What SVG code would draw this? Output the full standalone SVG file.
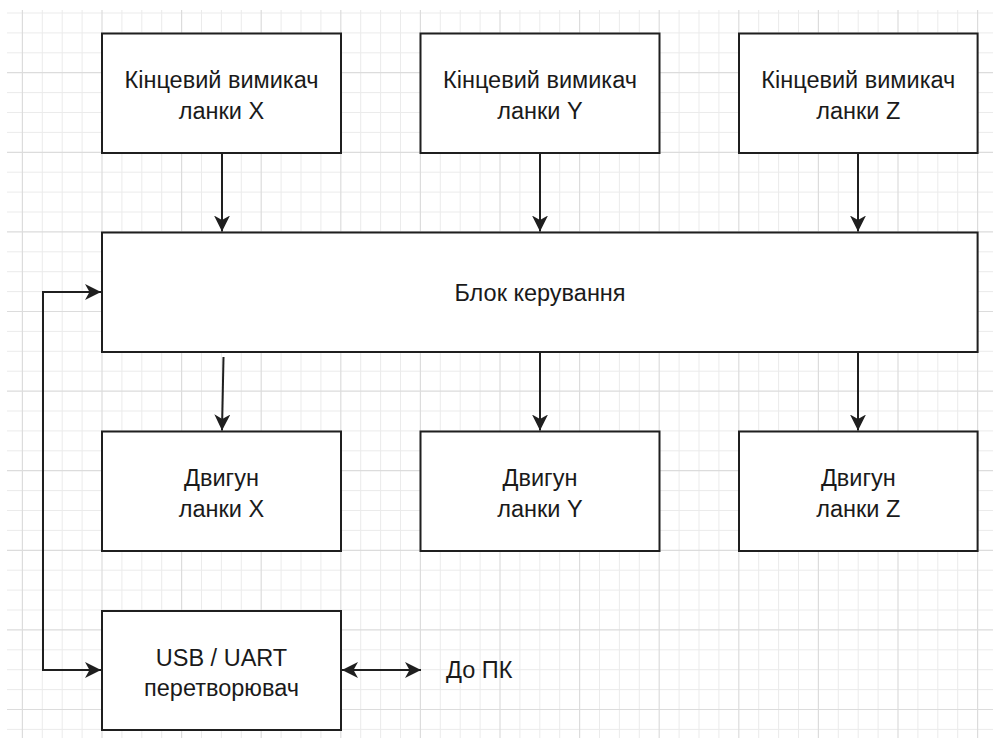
<svg xmlns="http://www.w3.org/2000/svg" width="993" height="738" viewBox="0 0 993 738">
  <defs>
    <style>
      .grid-minor { stroke: #ebebeb; stroke-width: 1; fill: none; }
      .grid-major { stroke: #dcdcdc; stroke-width: 1.2; fill: none; }
      .box { fill: #ffffff; stroke: #1f1f1f; stroke-width: 2; }
      .label { font-family: "Liberation Sans", Arial, Helvetica, sans-serif; font-size: 23.5px; fill: #1a1a1a; text-anchor: middle; }
      .edge { fill: none; stroke: #1f1f1f; stroke-width: 2; }
    </style>
    <marker id="arrow" viewBox="0 0 16 16" refX="16" refY="8" markerWidth="16" markerHeight="16" markerUnits="userSpaceOnUse" orient="auto-start-reverse">
      <path d="M0,0 L16,8 L0,16 L4.5,8 Z" fill="#1f1f1f"/>
    </marker>
  </defs>

  <rect x="0" y="0" width="993" height="738" fill="#ffffff"/>

  <!-- background grid: 19.9 px cells, heavier line every 4 cells -->
  <g id="grid">
    <path class="grid-minor" d="M42.3,10V738 M62.2,10V738 M82.1,10V738 M121.9,10V738 M141.8,10V738 M161.7,10V738 M201.5,10V738 M221.4,10V738 M241.3,10V738 M281.1,10V738 M301,10V738 M320.9,10V738 M360.7,10V738 M380.6,10V738 M400.5,10V738 M440.3,10V738 M460.2,10V738 M480.1,10V738 M519.9,10V738 M539.8,10V738 M559.7,10V738 M599.5,10V738 M619.4,10V738 M639.3,10V738 M679.1,10V738 M699,10V738 M718.9,10V738 M758.7,10V738 M778.6,10V738 M798.5,10V738 M838.3,10V738 M858.2,10V738 M878.1,10V738 M917.9,10V738 M937.8,10V738 M957.7,10V738
      M7,13H993 M7,32.9H993 M7,52.8H993 M7,92.6H993 M7,112.5H993 M7,132.4H993 M7,172.2H993 M7,192.1H993 M7,212H993 M7,251.8H993 M7,271.7H993 M7,291.6H993 M7,331.4H993 M7,351.3H993 M7,371.2H993 M7,411H993 M7,430.9H993 M7,450.8H993 M7,490.6H993 M7,510.5H993 M7,530.4H993 M7,570.2H993 M7,590.1H993 M7,610H993 M7,649.8H993 M7,669.7H993 M7,689.6H993 M7,729.4H993"/>
    <path class="grid-major" d="M22.4,10V738 M102,10V738 M181.6,10V738 M261.2,10V738 M340.8,10V738 M420.4,10V738 M500,10V738 M579.6,10V738 M659.2,10V738 M738.8,10V738 M818.4,10V738 M898,10V738 M977.6,10V738
      M7,72.7H993 M7,152.3H993 M7,231.9H993 M7,311.5H993 M7,391.1H993 M7,470.7H993 M7,550.3H993 M7,629.9H993 M7,709.5H993"/>
  </g>

  <!-- connectors -->
  <g id="connectors">
    <path class="edge" d="M222,153 V231.5" marker-end="url(#arrow)"/>
    <path class="edge" d="M540,153 V231.5" marker-end="url(#arrow)"/>
    <path class="edge" d="M858,153 V231.5" marker-end="url(#arrow)"/>
    <path class="edge" d="M223.5,357 L222,430.5" marker-end="url(#arrow)"/>
    <path class="edge" d="M540,352 V430.5" marker-end="url(#arrow)"/>
    <path class="edge" d="M858,352 V430.5" marker-end="url(#arrow)"/>
    <path class="edge" d="M101,292 H43 V670 H101" marker-start="url(#arrow)" marker-end="url(#arrow)"/>
    <path class="edge" d="M342,670 H421" marker-start="url(#arrow)" marker-end="url(#arrow)"/>
  </g>

  <g id="limit-x">
    <rect class="box" x="102" y="33.5" width="239" height="119.5"/>
    <text class="label" x="221.5" y="87.5">Кінцевий вимикач</text>
    <text class="label" x="221.5" y="118.5">ланки X</text>
  </g>
  <g id="limit-y">
    <rect class="box" x="420.5" y="33.5" width="239" height="119.5"/>
    <text class="label" x="540" y="87.5">Кінцевий вимикач</text>
    <text class="label" x="540" y="118.5">ланки Y</text>
  </g>
  <g id="limit-z">
    <rect class="box" x="739" y="33.5" width="238.6" height="119.5"/>
    <text class="label" x="858.3" y="87.5">Кінцевий вимикач</text>
    <text class="label" x="858.3" y="118.5">ланки Z</text>
  </g>

  <g id="controller">
    <rect class="box" x="102" y="232.5" width="875.6" height="119.5"/>
    <text class="label" x="540" y="300.5">Блок керування</text>
  </g>

  <g id="motor-x">
    <rect class="box" x="102" y="431.5" width="239" height="119.5"/>
    <text class="label" x="221.5" y="485.5">Двигун</text>
    <text class="label" x="221.5" y="516.5">ланки X</text>
  </g>
  <g id="motor-y">
    <rect class="box" x="420.5" y="431.5" width="239" height="119.5"/>
    <text class="label" x="540" y="485.5">Двигун</text>
    <text class="label" x="540" y="516.5">ланки Y</text>
  </g>
  <g id="motor-z">
    <rect class="box" x="739" y="431.5" width="238.6" height="119.5"/>
    <text class="label" x="858.3" y="485.5">Двигун</text>
    <text class="label" x="858.3" y="516.5">ланки Z</text>
  </g>

  <g id="usb-uart">
    <rect class="box" x="102" y="611" width="239" height="119"/>
    <text class="label" x="221.5" y="665.5">USB / UART</text>
    <text class="label" x="221.5" y="696">перетворювач</text>
  </g>

  <g id="pc">
    <text class="label" x="446" y="677.5" style="text-anchor:start">До ПК</text>
  </g>
</svg>
